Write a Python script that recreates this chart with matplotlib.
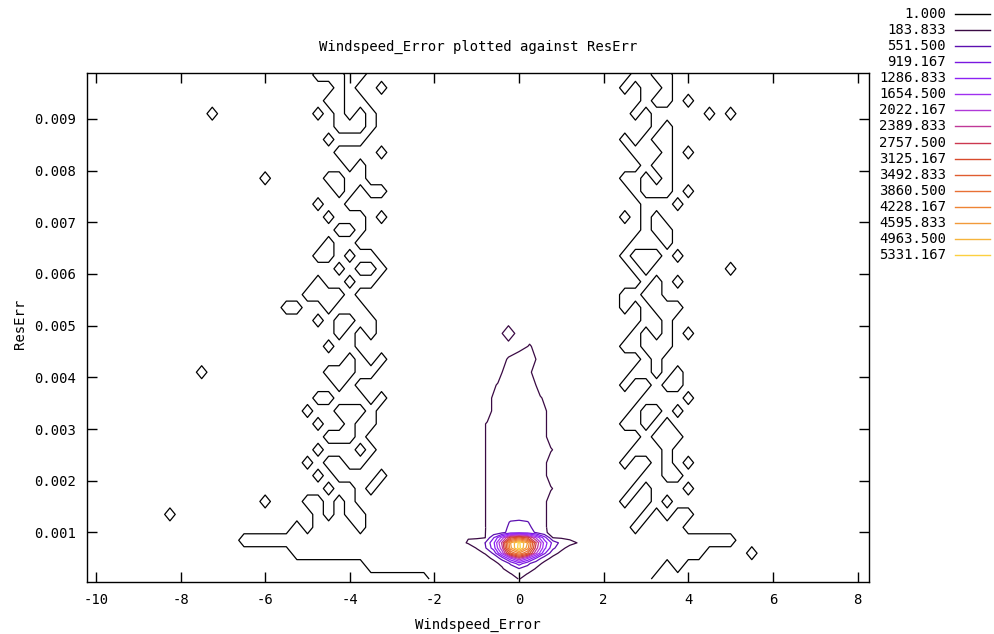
import numpy as np
import matplotlib
matplotlib.use("Agg")
import matplotlib.pyplot as plt
from matplotlib.lines import Line2D

# ---------------- data ----------------
title = "Windspeed_Error plotted against ResErr"
x_label = "Windspeed_Error"
y_label = "ResErr"

levels = [1.000, 183.833, 551.500, 919.167, 1286.833, 1654.500, 2022.167,
          2389.833, 2757.500, 3125.167, 3492.833, 3860.500, 4228.167,
          4595.833, 4963.500, 5331.167]
level_colors = ["#000000", "#3a0a44", "#5c10b0", "#7a18e0", "#8c22f4",
                "#a030f0", "#b038d8", "#c03898", "#cc3850", "#d84a2c",
                "#e05c30", "#e87034", "#ee8434", "#f29a3a", "#f6b43c",
                "#fcd040"]

x_ticks = [-10, -8, -6, -4, -2, 0, 2, 4, 6, 8]
y_ticks = [0.001, 0.002, 0.003, 0.004, 0.005, 0.006, 0.007, 0.008, 0.009]

# broad count map: columns x = -8.5 .. 5.75 (step 0.25),
# rows y = 0.0101 (top) .. 0.0001 (bottom), step 0.00025
# '.'=0, '1'=2, 'h'=220, 'H'=450 counts
map_x = np.linspace(-8.5, 5.75, 58)
map_y = np.linspace(0.0001, 0.0101, 41)
map_codes = {'.': 0.0, '1': 2.0, 'h': 220.0, 'H': 450.0}
count_map = [
    ".............|...1..1.11|11111111|1111111|11111|111.1.1..|......",
    ".............|..111..111|11111111|1111111|11111|11..11...|......",
    ".............|....1.11.1|11111111|1111111|11111|1.1..1...|......",
    ".............|...11..111|11111111|1111111|11111|111.11.1.|......",
    ".....1.......|..1.1.1.11|11111111|1111111|11111|11.1.....|1.1...",
    ".............|....111.11|11111111|1111111|11111|1111.1...|......",
    ".............|...1...111|11111111|1111111|11111|1.1.11...|......",
    ".............|....1111.1|11111111|1111111|11111|11...1.1.|......",
    ".............|.....1.111|11111111|1111111|11111|111.11...|......",
    "..........1..|...11..111|11111111|1111111|11111|1..1.1...|......",
    ".............|....1.1..1|11111111|1111111|11111|11.111.1.|......",
    ".............|..1..11111|11111111|1111111|11111|111...1..|......",
    ".............|...1...1.1|11111111|1111111|11111|1.1.1....|......",
    ".............|....11.111|11111111|1111111|11111|111.11...|......",
    ".............|...1..1111|11111111|1111111|11111|11...1...|......",
    ".............|..11.1..11|11111111|1111111|11111|1.111.1..|......",
    ".............|....1.11.1|11111111|1111111|11111|11.1.....|..1...",
    ".............|..1..1..11|11111111|1111111|11111|111.1.1..|......",
    ".............|.1111.1111|11111111|1111111|11111|1..11....|......",
    "............1|1..1...111|11111111|1111111|11111|1.1.111..|......",
    ".............|..1.11..11|11111111|1111111|11111|111..1...|......",
    ".............|....1.1.11|11111111|11H1111|11111|11.1.1.1.|......",
    ".............|...1..1111|11111111|1111h11|11111|1..111...|......",
    ".............|.....1.1.1|11111111|11hHH11|11111|111.1....|......",
    "....1........|...111..11|11111111|11HHh11|11111|11..1.1..|......",
    ".............|....1.1111|11111111|1hHHH11|11111|1.11.11..|......",
    ".............|..11...1.1|11111111|1HHHHh1|11111|111....1.|......",
    ".............|.1..111.11|11111111|1HHHHH1|11111|11.11.1..|......",
    ".............|..1..1..11|11111111|hHHHHH1|11111|1..1.1...|......",
    ".............|...111.111|11111111|hHHHHH1|11111|111.111..|......",
    ".............|..1...1.11|11111111|hHHHHHh|11111|11...1...|......",
    ".............|.1.11..111|11111111|hHHHHH1|11111|1.11.1.1.|......",
    ".............|..1.1111.1|11111111|hHHHHH1|11111|111..11..|......",
    ".............|...1..1.11|11111111|hHHHHHh|11111|11.1...1.|......",
    "..........1..|.11.1.1111|11111111|hHHHHH1|11111|1.11.1...|......",
    ".1...........|..1.1..111|11111111|hHHHHH1|11111|111.1.11.|......",
    ".............|1.1111.111|11111111|hHHHHH1|11111|11.1111..|......",
    "........11111|1111111111|11111111|1111111|11111|111111111|111...",
    ".............|1111111111|11111111|1111111|11111|111111111|....1.",
    ".............|.......111|11111111|1111111|11111|11111.1..|......",
    ".............|..........|...11111|1111111|11111|1111.....|......",
]

# central peak counts: columns x = -1.4 .. 1.4 (step 0.2),
# rows y = 0.0001 .. 0.0014 (bottom to top), step 0.0001
peak_x = np.linspace(-1.4, 1.4, 15)
peak_y = np.linspace(0.0001, 0.0014, 14)
peak_counts = [
    [20, 25, 30, 40, 50, 70, 120, 190, 120, 70, 50, 40, 30, 25, 20],
    [25, 30, 40, 50, 65, 90, 170, 320, 175, 95, 65, 50, 40, 30, 25],
    [30, 40, 50, 65, 90, 150, 380, 540, 400, 160, 90, 65, 50, 40, 30],
    [30, 40, 55, 75, 103, 250, 600, 1100, 650, 320, 110, 75, 55, 40, 30],
    [40, 55, 75, 100, 230, 700, 1600, 2400, 1700, 900, 300, 110, 75, 55, 40],
    [60, 80, 110, 200, 620, 1800, 3500, 4200, 3500, 2100, 1000, 280, 120, 80, 60],
    [60, 90, 195, 500, 1100, 2300, 4500, 5500, 4400, 2600, 1400, 650, 250, 100, 60],
    [130, 202, 300, 560, 1200, 2500, 4600, 5420, 4600, 2800, 1500, 800, 420, 260, 170],
    [100, 176, 155, 175, 900, 1800, 3000, 3400, 3000, 2000, 1100, 175, 150, 130, 100],
    [80, 120, 140, 180, 300, 450, 700, 750, 700, 520, 215, 120, 100, 80, 60],
    [70, 100, 120, 178, 290, 400, 650, 700, 650, 430, 212, 100, 90, 70, 50],
    [60, 80, 100, 150, 250, 300, 600, 640, 580, 320, 200, 100, 80, 60, 40],
    [50, 60, 80, 120, 200, 200, 350, 400, 350, 200, 180, 80, 60, 50, 30],
    [40, 50, 60, 100, 150, 150, 200, 220, 200, 150, 150, 60, 50, 40, 20],
]

# ---------------- build arrays ----------------
rows = [r.replace('|', '').ljust(58, '.')[:58] for r in count_map]
Z = np.array([[map_codes[c] for c in r] for r in rows])[::-1]
# the central peak region is described by peak_counts; hide it in the broad map
hide = np.zeros_like(Z, dtype=bool)
hide[np.ix_(map_y < 0.001, np.abs(map_x) <= 1.5)] = True
Zm = np.ma.masked_array(Z, mask=hide)
P = np.array(peak_counts, dtype=float)
low_rows = peak_y <= 0.00111

# ---------------- figure ----------------
W, H = 994, 634
fig = plt.figure(figsize=(W / 100, H / 100), dpi=100)
mono = "DejaVu Sans Mono"
fs = 10

ax = fig.add_axes([87 / W, 1 - 581.5 / H, (869 - 87) / W, (581.5 - 72.5) / H])

ax.contour(map_x, map_y, Zm, levels=levels[:2], colors=level_colors[:2],
           linewidths=0.9)
ax.contour(peak_x, peak_y[low_rows], P[low_rows], levels=[levels[1]],
           colors=[level_colors[1]], linewidths=0.9)
ax.contour(peak_x, peak_y, P, levels=levels[2:], colors=level_colors[2:],
           linewidths=0.9)

ax.set_xlim(-10.21, 8.27)
ax.set_ylim(0.0000523, 0.009896)
ax.set_xticks(x_ticks)
ax.set_xticklabels([f"{v:d}" for v in x_ticks], family=mono, fontsize=fs)
ax.set_yticks(y_ticks)
ax.set_yticklabels([f"{v:.3f}" for v in y_ticks], family=mono, fontsize=fs)
ax.tick_params(direction="in", length=7.5, width=1, top=True, right=True,
               color="black", labelcolor="black")
ax.tick_params(axis="x", pad=8)
ax.tick_params(axis="y", pad=8)
for s in ax.spines.values():
    s.set_linewidth(1.0)
    s.set_color("black")

fig.text(478 / W, 1 - 47 / H, title, ha="center", va="center",
         family=mono, fontsize=fs)
fig.text(478 / W, 1 - 625 / H, x_label, ha="center", va="center",
         family=mono, fontsize=fs)
fig.text(20 / W, 1 - 324 / H, y_label, ha="center", va="center",
         rotation=90, family=mono, fontsize=fs)

# key (outside right)
for k, (lev, col) in enumerate(zip(levels, level_colors)):
    yy = 1 - (14 + 16.07 * k) / H
    fig.text(946 / W, yy, f"{lev:.3f}", ha="right", va="center",
             family=mono, fontsize=fs)
    fig.add_artist(Line2D([955 / W, 990 / W], [yy, yy], color=col, lw=1.0,
                          transform=fig.transFigure))

fig.savefig("out.png", dpi=100, facecolor="white")
